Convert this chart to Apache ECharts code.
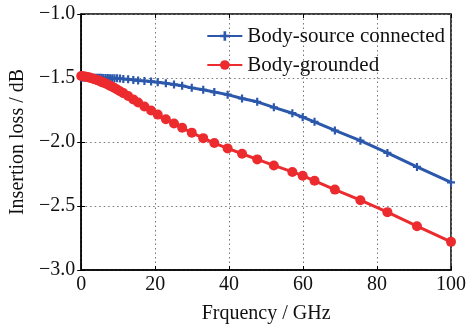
<!DOCTYPE html>
<html>
<head>
<meta charset="utf-8">
<script src="https://cdn.jsdelivr.net/npm/echarts@6/dist/echarts.min.js"></script>
<style>
  html, body { margin: 0; padding: 0; background: #fff; }
  #chart { width: 469px; height: 329px; }
</style>
</head>
<body>
<div id="chart"></div>
<script>
// frequency points (GHz), shared by both curves
const freq = [0, 0.5, 1, 1.5, 2, 2.5, 3, 3.5, 4, 4.5, 5, 5.5, 6, 6.6, 7.2, 7.8, 8.4, 9, 9.7, 10.5,
  11.4, 12.7, 14.1, 15.4, 17.1, 18.9, 20.7, 22.9, 25.1, 27.3, 29.9, 33, 36, 39.6, 43.5, 47.6,
  52.1, 57.1, 59.9, 63.1, 68.6, 75.5, 82.8, 90.8, 100];

// insertion loss, dB
const bodySource = [-1.497, -1.497, -1.497, -1.497, -1.498, -1.498, -1.498, -1.498, -1.499, -1.499,
  -1.499, -1.499, -1.500, -1.500, -1.500, -1.501, -1.501, -1.501, -1.502, -1.504,
  -1.507, -1.510, -1.515, -1.520, -1.523, -1.528, -1.533, -1.541, -1.551, -1.561,
  -1.577, -1.592, -1.610, -1.630, -1.660, -1.686, -1.729, -1.775, -1.806, -1.842,
  -1.910, -1.990, -2.085, -2.195, -2.316];

const bodyGrounded = [-1.485, -1.487, -1.489, -1.492, -1.495, -1.499, -1.503, -1.508, -1.513, -1.518,
  -1.524, -1.530, -1.536, -1.543, -1.551, -1.560, -1.569, -1.578, -1.590, -1.603,
  -1.618, -1.641, -1.667, -1.691, -1.722, -1.754, -1.786, -1.822, -1.856, -1.889,
  -1.927, -1.970, -2.008, -2.050, -2.092, -2.136, -2.183, -2.234, -2.263, -2.303,
  -2.372, -2.455, -2.548, -2.658, -2.780];

const seriesNames = ['Body-source connected', 'Body-grounded'];
const xTicks = { min: 0, max: 100, interval: 20 };
const yTicks = { min: -3, max: -1, interval: 0.5 };

const font = "'Liberation Serif', 'Times New Roman', serif";
const blue = '#2c58ac';
const red = '#ec2b2f';
const plus = 'path://M-1.1,-4H1.1V-1.1H4V1.1H1.1V4H-1.1V1.1H-4V-1.1H-1.1Z';

const pairs = (ys) => freq.map((f, i) => [f, ys[i]]);

const chart = echarts.init(document.getElementById('chart'));

const tickStyle = { show: true, inside: true, length: 4, lineStyle: { color: '#000', width: 1 } };

chart.setOption({
  animation: false,
  textStyle: { fontFamily: font },
  grid: {
    left: 77, right: 13, top: 14, bottom: 58,
    show: true, borderColor: '#000', borderWidth: 1.5, backgroundColor: 'transparent'
  },
  legend: {
    orient: 'vertical',
    right: 19,
    top: 19,
    itemWidth: 35,
    itemHeight: 12,
    itemGap: 5,
    data: seriesNames,
    textStyle: { fontFamily: font, fontSize: 21, color: '#111', lineHeight: 24 }
  },
  xAxis: [{
    type: 'value',
    min: xTicks.min, max: xTicks.max, interval: xTicks.interval,
    name: 'Frquency / GHz',
    nameLocation: 'middle',
    nameGap: 34,
    nameTextStyle: { fontFamily: font, fontSize: 20, color: '#111' },
    axisLine: { show: true, lineStyle: { color: '#000', width: 1.5 } },
    axisTick: tickStyle,
    axisLabel: { fontFamily: font, fontSize: 20, color: '#111', margin: 5 },
    splitLine: { show: true, lineStyle: { type: [1.5, 3], color: '#777', width: 1 } }
  }, {
    type: 'value', position: 'top',
    min: xTicks.min, max: xTicks.max, interval: xTicks.interval,
    axisLine: { show: false }, axisTick: tickStyle,
    axisLabel: { show: false }, splitLine: { show: false }
  }],
  yAxis: [{
    type: 'value',
    min: yTicks.min, max: yTicks.max, interval: yTicks.interval,
    name: 'Insertion loss / dB',
    nameLocation: 'middle',
    nameGap: 45,
    nameTextStyle: { fontFamily: font, fontSize: 20, color: '#111' },
    axisLine: { show: true, lineStyle: { color: '#000', width: 1.5 } },
    axisTick: tickStyle,
    axisLabel: {
      fontFamily: font, fontSize: 20, color: '#111', margin: 6,
      formatter: (v) => (v < 0 ? '\u2212' : '') + Math.abs(v).toFixed(1)
    },
    splitLine: { show: true, lineStyle: { type: [1.5, 3], color: '#777', width: 1 } }
  }, {
    type: 'value', position: 'right',
    min: yTicks.min, max: yTicks.max, interval: yTicks.interval,
    axisLine: { show: false }, axisTick: tickStyle,
    axisLabel: { show: false }, splitLine: { show: false }
  }],
  series: [{
    name: seriesNames[0],
    type: 'line',
    data: pairs(bodySource),
    symbol: plus,
    symbolSize: 8,
    showAllSymbol: true,
    itemStyle: { color: blue },
    lineStyle: { color: blue, width: 3 },
    z: 2
  }, {
    name: seriesNames[1],
    type: 'line',
    data: pairs(bodyGrounded),
    symbol: 'circle',
    symbolSize: 10,
    showAllSymbol: true,
    itemStyle: { color: red },
    lineStyle: { color: red, width: 3 },
    z: 3
  }]
});
</script>
</body>
</html>
